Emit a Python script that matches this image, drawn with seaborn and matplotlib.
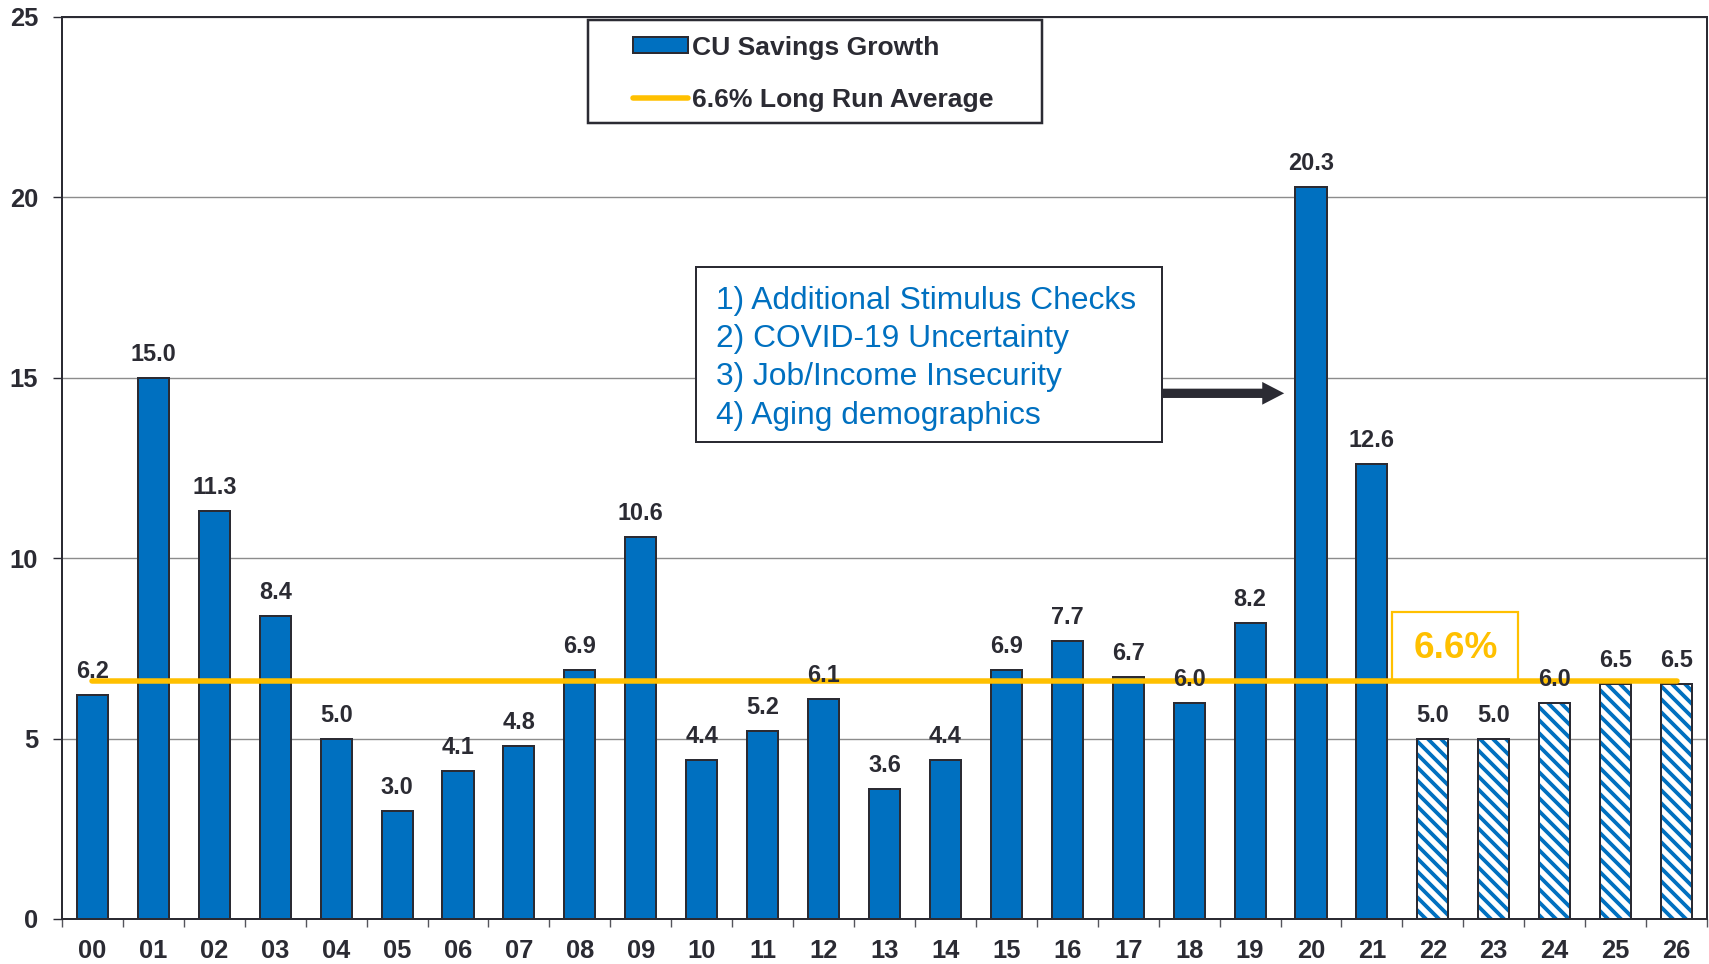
import matplotlib
matplotlib.use("Agg")
import numpy as np
import pandas as pd
import matplotlib.pyplot as plt
import seaborn as sns
from matplotlib.patches import Rectangle, Patch
from matplotlib.lines import Line2D

# ---- data -------------------------------------------------------------
years = ["00", "01", "02", "03", "04", "05", "06", "07", "08", "09",
         "10", "11", "12", "13", "14", "15", "16", "17", "18", "19",
         "20", "21", "22", "23", "24", "25", "26"]
growth = [6.2, 15.0, 11.3, 8.4, 5.0, 3.0, 4.1, 4.8, 6.9, 10.6,
          4.4, 5.2, 6.1, 3.6, 4.4, 6.9, 7.7, 6.7, 6.0, 8.2,
          20.3, 12.6, 5.0, 5.0, 6.0, 6.5, 6.5]
first_forecast_year = "22"
LONG_RUN_AVG = 6.6
y_ticks = [0, 5, 10, 15, 20, 25]
drivers = ["1) Additional Stimulus Checks",
           "2) COVID-19 Uncertainty",
           "3) Job/Income Insecurity",
           "4) Aging demographics"]
series_label = "CU Savings Growth"
avg_label = f"{LONG_RUN_AVG}% Long Run Average"

# ---- style ------------------------------------------------------------
DPI = 156
W, H = 1709, 964


def pt(px):
    """pixel length -> points at the figure dpi"""
    return px * 72 / DPI


BLUE = "#0070C0"
GOLD = "#FFC000"
DARK = "#2b2b33"
GRID = "#8c8c8c"
HATCH = chr(92) * 4          # back-slashes: dense diagonal stripes

sns.set_theme(style="white")
plt.rcParams["font.family"] = ["Liberation Sans", "DejaVu Sans"]
plt.rcParams["hatch.linewidth"] = pt(3.8)

fig = plt.figure(figsize=(W / DPI, H / DPI), dpi=DPI)
fig.patch.set_facecolor("white")
ax = fig.add_axes([62 / W, 45 / H, 1645 / W, 902 / H])

df = pd.DataFrame({"year": years, "growth": growth})
df["forecast"] = df["year"] >= first_forecast_year
actual = df[~df["forecast"]]
forecast = df[df["forecast"]]

BAR_W = 0.51
# historical bars
sns.barplot(data=actual, x="year", y="growth", order=years, color=BLUE,
            saturation=1, width=BAR_W, edgecolor=DARK, linewidth=pt(2),
            errorbar=None, ax=ax, zorder=3)
# forecast bars: blue hatching on white ...
sns.barplot(data=forecast, x="year", y="growth", order=years, color="white",
            saturation=1, width=BAR_W, edgecolor=BLUE, hatch=HATCH,
            linewidth=0, errorbar=None, ax=ax, zorder=3)
# ... with a dark outline
sns.barplot(data=forecast, x="year", y="growth", order=years, color=DARK,
            fill=False, width=BAR_W, linewidth=pt(2),
            errorbar=None, ax=ax, zorder=3.2)

# long-run average line across the categories
ax.plot([0, len(years) - 1], [LONG_RUN_AVG, LONG_RUN_AVG], color=GOLD,
        lw=pt(5.5), solid_capstyle="round", zorder=4)

# value labels
for i, v in enumerate(growth):
    ax.annotate(f"{v:.1f}", (i, v), xytext=(0, pt(17)),
                textcoords="offset points", ha="center", va="baseline",
                fontsize=pt(23.5), fontweight="bold", color=DARK, zorder=6)

# axes
ax.set_xlim(-0.5, len(years) - 0.5)
ax.set_ylim(0, 25)
ax.set_xlabel("")
ax.set_ylabel("")
ax.set_axisbelow(True)
ax.yaxis.grid(True, color=GRID, lw=pt(1.4))
ax.xaxis.grid(False)

ax.set_yticks(y_ticks, [str(t) for t in y_ticks], fontweight="bold")
ax.set_xticks(range(len(years)), years, fontweight="bold")
ax.set_xticks(np.arange(-0.5, len(years), 1), minor=True)
ax.tick_params(axis="y", which="major", left=True, direction="out",
               length=pt(9), width=pt(1.4), color=DARK, pad=pt(15),
               labelsize=pt(25.5), labelcolor=DARK)
ax.tick_params(axis="x", which="major", bottom=True, length=0,
               pad=pt(19.5), labelsize=pt(25.5), labelcolor=DARK)
ax.tick_params(axis="x", which="minor", bottom=True, direction="out",
               length=pt(8), width=pt(1.4), color="#55555c")
for s in ax.spines.values():
    s.set_visible(True)
    s.set_color(DARK)
    s.set_linewidth(pt(2))

# legend
handles = [Patch(facecolor=BLUE, edgecolor=DARK, lw=pt(2), label=series_label),
           Line2D([0], [0], color=GOLD, lw=pt(5.5), solid_capstyle="round",
                  label=avg_label)]
ax.add_patch(Rectangle((588 / W, 1 - 123 / H), 454 / W, 103 / H,
                       transform=fig.transFigure, facecolor="white",
                       edgecolor=DARK, lw=pt(2.5), zorder=7, clip_on=False))
leg = ax.legend(handles=handles, loc="upper left",
                bbox_to_anchor=(633 / W, 1 - 35.5 / H),
                bbox_transform=fig.transFigure, frameon=False,
                prop={"weight": "bold", "size": pt(26.5)},
                handlelength=2.08, handleheight=0.53, handletextpad=0.15,
                labelspacing=1.06, borderpad=0, borderaxespad=0)
leg.set_zorder(8)
for t in leg.get_texts():
    t.set_color(DARK)

# driver call-out box with arrow to 2020
ax.add_patch(Rectangle((9.905, 13.22), 17.55 - 9.905, 18.07 - 13.22,
                       facecolor="white", edgecolor=DARK, lw=pt(2), zorder=7))
for k, line in enumerate(drivers):
    ax.annotate(line, (10.23, 16.91), xytext=(0, -k * pt(38.3)),
                textcoords="offset points", ha="left", va="baseline",
                fontsize=pt(31.7), color=BLUE, zorder=8)
ax.arrow(17.55, 14.57, 19.56 - 17.55, 0, width=0.258, head_width=0.63,
         head_length=0.36, length_includes_head=True, color=DARK,
         lw=0, zorder=7)

# long-run average tag
ax.add_patch(Rectangle((21.33, LONG_RUN_AVG), 2.07, 1.91, facecolor="white",
                       edgecolor=GOLD, lw=pt(2.2), zorder=3.5))
ax.text(22.38, 7.23, f"{LONG_RUN_AVG}%", ha="center", va="baseline",
        fontsize=pt(37), fontweight="bold", color=GOLD, zorder=6)

fig.savefig("out.png", dpi=DPI, facecolor="white")
